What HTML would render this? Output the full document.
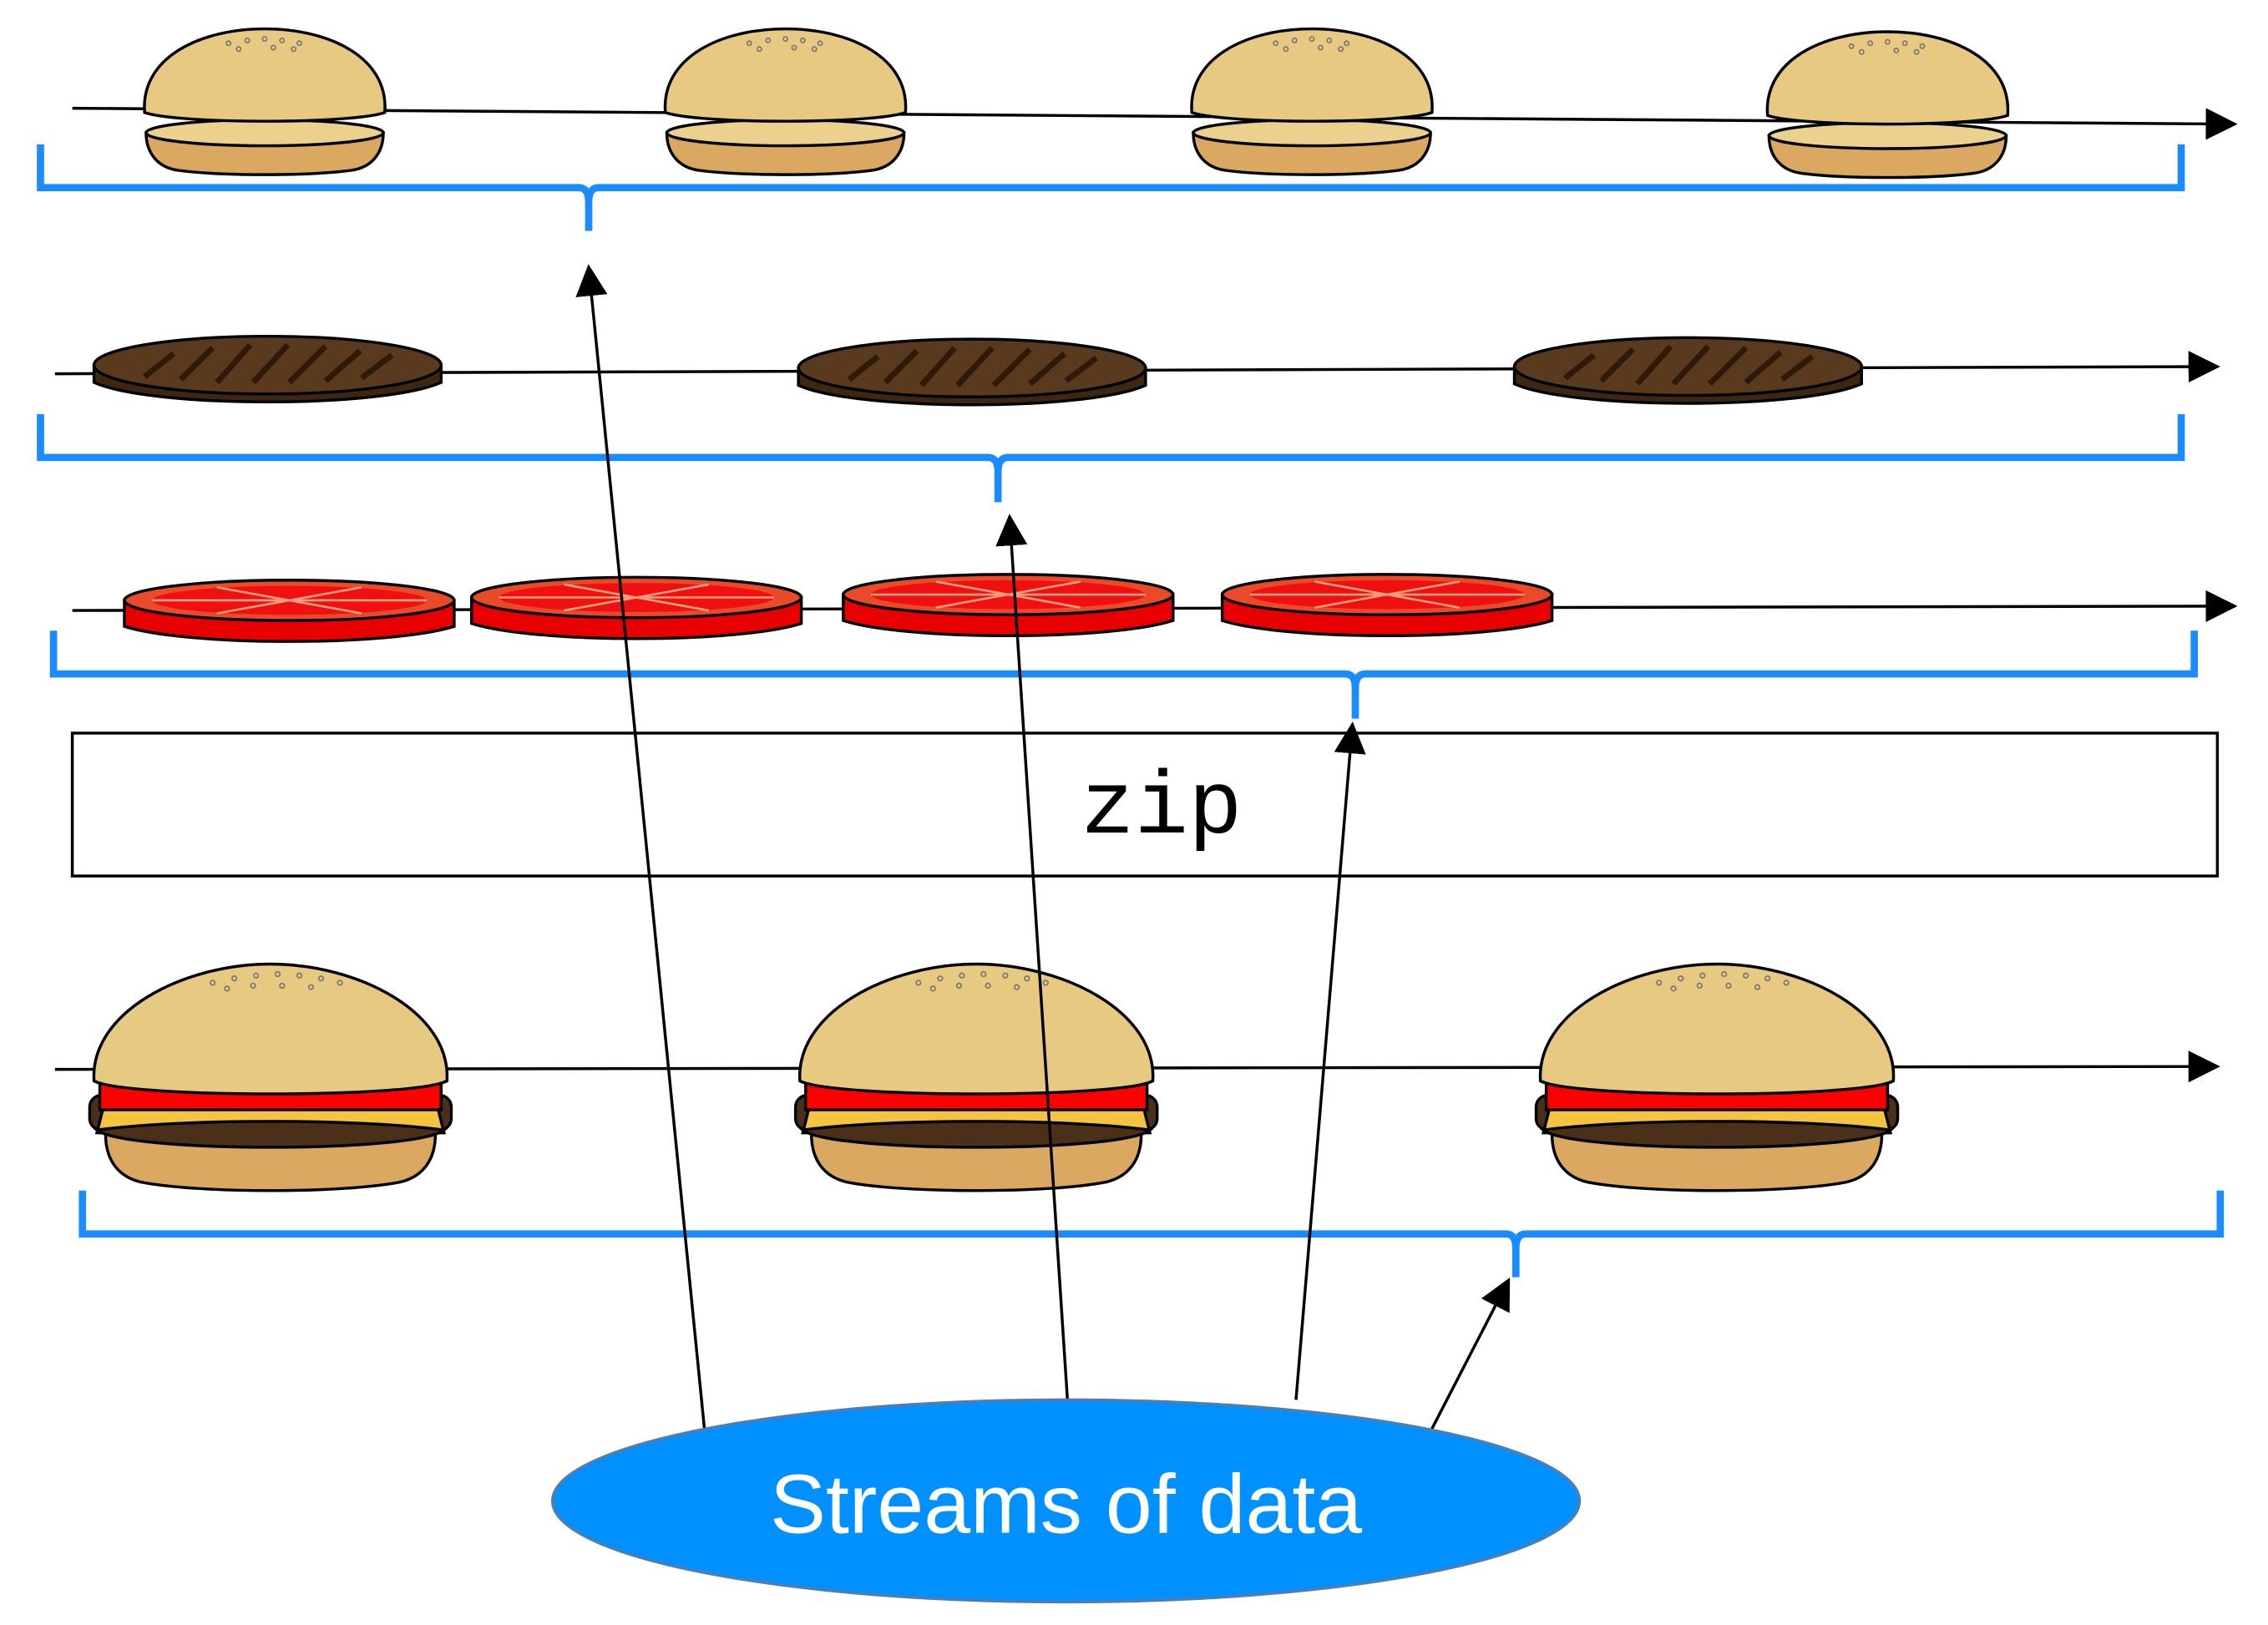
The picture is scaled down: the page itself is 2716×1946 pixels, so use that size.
<!DOCTYPE html>
<html><head><meta charset="utf-8"><style>html,body{margin:0;padding:0;background:#fff}svg{display:block}</style></head>
<body>
<svg width="2716" height="1946" viewBox="0 0 1568 1126" preserveAspectRatio="none" xmlns="http://www.w3.org/2000/svg">
<defs>
<marker id="ah2" markerWidth="22" markerHeight="22" refX="20" refY="11" orient="auto" markerUnits="userSpaceOnUse" viewBox="0 0 22 22"><path d="M0,0 L22,11 L0,22 Z" fill="#000"/></marker>
<g id="bun" stroke="#000" stroke-width="2">
 <path d="M-82,12 L82,12 C82,26 74,36 60,38 C30,42 -30,42 -60,38 C-74,36 -82,26 -82,12 Z" fill="#dba862"/>
 <ellipse cx="0" cy="12" rx="82" ry="9" fill="#ecd08e"/>
 <path d="M-83,-2 C-86,-40 -45,-60 0,-60 C45,-60 86,-40 83,-2 C60,6 -60,6 -83,-2 Z" fill="#e8c982"/>
 <g fill="none" stroke="#777" stroke-width="1"><circle cx="-25" cy="-50" r="1.5"/><circle cx="-12" cy="-52" r="1.5"/><circle cx="0" cy="-53" r="1.5"/><circle cx="12" cy="-52" r="1.5"/><circle cx="24" cy="-50" r="1.5"/><circle cx="-18" cy="-46" r="1.5"/><circle cx="6" cy="-47" r="1.5"/><circle cx="20" cy="-46" r="1.5"/></g>
</g>
<g id="patty" stroke="#000" stroke-width="2">
 <path d="M-120,0 L-120,12 C-80,30 80,30 120,12 L120,0 Z" fill="#3e2712"/>
 <ellipse cx="0" cy="0" rx="120" ry="20" fill="#5a3a1e"/>
 <g stroke="#2e1a08" stroke-width="4"><line x1="-85" y1="8" x2="-65" y2="-8"/><line x1="-60" y1="10" x2="-38" y2="-12"/><line x1="-35" y1="12" x2="-12" y2="-14"/><line x1="-10" y1="12" x2="14" y2="-14"/><line x1="15" y1="12" x2="40" y2="-13"/><line x1="40" y1="11" x2="64" y2="-10"/><line x1="65" y1="9" x2="86" y2="-7"/></g>
</g>
<g id="tomato" stroke="#000" stroke-width="2">
 <path d="M-114,0 L-114,18 C-70,32 70,32 114,18 L114,0 Z" fill="#e80000"/>
 <ellipse cx="0" cy="0" rx="114" ry="14" fill="#e84a2a"/>
 <ellipse cx="0" cy="0" rx="95" ry="10" fill="#f01010" stroke="none"/>
 <g stroke="#f8a080" stroke-width="1.5"><line x1="-95" y1="0" x2="95" y2="0"/><line x1="-50" y1="-9" x2="50" y2="9"/><line x1="-50" y1="9" x2="50" y2="-9"/></g>
</g>
<g id="burger" stroke="#000" stroke-width="2">
 <path d="M-114,45 L114,45 C114,62 106,74 90,78 C50,86 -50,86 -90,78 C-106,74 -114,62 -114,45 Z" fill="#dba862"/>
 <rect x="-125" y="18" width="250" height="24" rx="8" fill="#4a3018"/>
 <polygon points="-115,24 115,24 120,44 -120,44" fill="#f5c242"/>
 <path d="M-120,42 C-60,34 60,34 120,42 C100,58 -100,58 -120,42 Z" fill="#4a3018"/>
 <rect x="-118" y="4" width="236" height="24" fill="#f00"/>
 <path d="M-122,8 C-125,-40 -60,-73 0,-73 C60,-73 125,-40 122,8 C100,20 -100,20 -122,8 Z" fill="#e8c982"/>
 <g fill="none" stroke="#777" stroke-width="1"><circle cx="-40" cy="-60" r="1.6"/><circle cx="-25" cy="-63" r="1.6"/><circle cx="-10" cy="-65" r="1.6"/><circle cx="5" cy="-66" r="1.6"/><circle cx="20" cy="-65" r="1.6"/><circle cx="35" cy="-63" r="1.6"/><circle cx="48" cy="-60" r="1.6"/><circle cx="-30" cy="-56" r="1.6"/><circle cx="-12" cy="-58" r="1.6"/><circle cx="8" cy="-58" r="1.6"/><circle cx="28" cy="-57" r="1.6"/></g>
</g>
</defs>

<line x1="50" y1="75" x2="1545" y2="86" stroke="#000" stroke-width="2" marker-end="url(#ah2)"/>
<use href="#bun" x="183" y="80"/><use href="#bun" x="543" y="80"/><use href="#bun" x="907" y="80"/><use href="#bun" x="1305" y="82"/>
<path d="M28,100 L28,130 L400,130 Q407,130 407,140 L407,160 M407,140 Q407,130 414,130 L1508,130 L1508,100" fill="none" stroke="#1a8cff" stroke-width="5"/>

<line x1="38" y1="259" x2="1533" y2="254" stroke="#000" stroke-width="2" marker-end="url(#ah2)"/>
<use href="#patty" x="185" y="253"/><use href="#patty" x="672" y="255"/><use href="#patty" x="1167" y="254"/>
<path d="M28,287 L28,317 L683,317 Q690,317 690,327 L690,348 M690,327 Q690,317 697,317 L1508,317 L1508,287" fill="none" stroke="#1a8cff" stroke-width="5"/>

<line x1="50" y1="423" x2="1545" y2="420" stroke="#000" stroke-width="2" marker-end="url(#ah2)"/>
<use href="#tomato" x="200" y="416"/><use href="#tomato" x="440" y="414"/><use href="#tomato" x="697" y="412"/><use href="#tomato" x="959" y="412"/>
<path d="M37,437 L37,467 L930,467 Q937,467 937,477 L937,498 M937,477 Q937,467 944,467 L1517,467 L1517,437" fill="none" stroke="#1a8cff" stroke-width="5"/>

<rect x="50" y="508" width="1483" height="99" fill="#fff" stroke="#000" stroke-width="2"/>
<text x="803" y="577" font-family="Liberation Mono, monospace" font-size="62" text-anchor="middle" fill="#000">zip</text>

<line x1="38" y1="741" x2="1533" y2="739" stroke="#000" stroke-width="2" marker-end="url(#ah2)"/>
<use href="#burger" x="187" y="741"/><use href="#burger" x="675" y="741"/><use href="#burger" x="1187" y="741"/>
<path d="M57,825 L57,855 L1041,855 Q1048,855 1048,865 L1048,885 M1048,865 Q1048,855 1055,855 L1535,855 L1535,825" fill="none" stroke="#1a8cff" stroke-width="5"/>

<g stroke="#000" stroke-width="2" marker-end="url(#ah2)">
<line x1="487" y1="990" x2="407" y2="185"/>
<line x1="738" y1="970" x2="698" y2="358"/>
<line x1="896" y1="970" x2="935" y2="502"/>
<line x1="990" y1="990" x2="1043" y2="887"/>
</g>

<ellipse cx="737" cy="1040" rx="355" ry="70" fill="#0090ff" stroke="#4a7fb5" stroke-width="2"/>
<text x="737" y="1062" font-family="Liberation Sans, sans-serif" font-size="58" text-anchor="middle" fill="#fff">Streams of data</text>
</svg>
</body></html>
